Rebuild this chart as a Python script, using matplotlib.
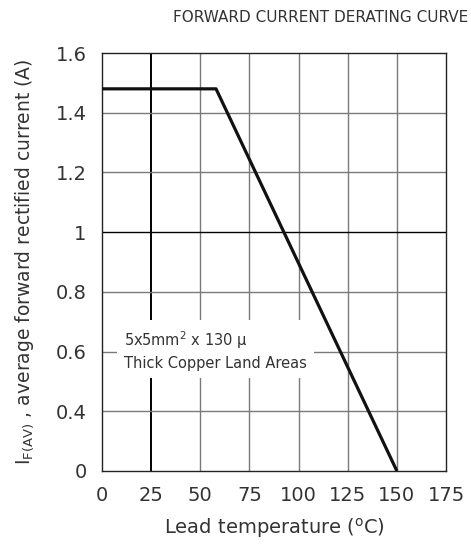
import numpy as np
import matplotlib.pyplot as plt

plt.rcParams['font.family'] = ['DejaVu Sans']
plt.rcParams['mathtext.fontset'] = 'dejavusans'

# derating curve
temp = [0, 58, 150]
current = [1.48, 1.48, 0]

x_ticks = [0, 25, 50, 75, 100, 125, 150, 175]
y_ticks = [0, 0.4, 0.6, 0.8, 1, 1.2, 1.4, 1.6]
y_labels = ['0', '0.4', '0.6', '0.8', '1', '1.2', '1.4', '1.6']

# the y axis is broken at the bottom: 0..0.4 takes one grid step
def fwd(v):
    v = np.asarray(v, dtype=float)
    return np.where(v >= 0.4, v, 0.2 + v * 0.5)

def inv(u):
    u = np.asarray(u, dtype=float)
    return np.where(u >= 0.4, u, (u - 0.2) * 2)

txt = '#333333'
fig = plt.figure(figsize=(4.71, 5.51), dpi=100)
ax = fig.add_axes([0.2166, 0.1452, 0.7304, 0.7586])
ax.set_yscale('function', functions=(fwd, inv))
ax.set_xlim(0, 175)
ax.set_ylim(0, 1.6)

for x in x_ticks[1:-1]:
    if x == 25:
        ax.axvline(x, color='black', lw=1.4, zorder=1)
    else:
        ax.axvline(x, color='#7a7a7a', lw=1.0, zorder=1)
for y in y_ticks[1:-1]:
    if y == 1:
        ax.axhline(y, color='black', lw=1.0, zorder=1)
    else:
        ax.axhline(y, color='#7a7a7a', lw=1.0, zorder=1)

ax.plot(temp, current, color='#111111', lw=2.3, zorder=3, solid_capstyle='butt')

ax.text(11, 0.605, '5x5mm$^{2}$ x 130 \u03bc\nThick Copper Land Areas',
        fontsize=10.5, color=txt, va='center', ha='left', linespacing=1.45, zorder=2,
        bbox=dict(facecolor='white', edgecolor='none', pad=5))

ax.set_xticks(x_ticks)
ax.set_yticks(y_ticks)
ax.set_yticklabels(y_labels)
ax.minorticks_off()
ax.tick_params(length=0, labelsize=14, labelcolor=txt, pad=11)
for s in ax.spines.values():
    s.set_color('#222222')
    s.set_linewidth(1.0)

ax.set_xlabel('Lead temperature ($^{\\mathregular{o}}$C)', fontsize=14, color=txt, labelpad=8)
ax.set_ylabel('I$_{\\mathregular{F(AV)}}$ , average forward rectified current (A)',
              fontsize=13.5, color=txt, labelpad=14)
fig.text(0.994, 0.969, 'FORWARD CURRENT DERATING CURVE', fontsize=11, color=txt,
         ha='right', va='center')

fig.savefig('out.png', dpi=100)
